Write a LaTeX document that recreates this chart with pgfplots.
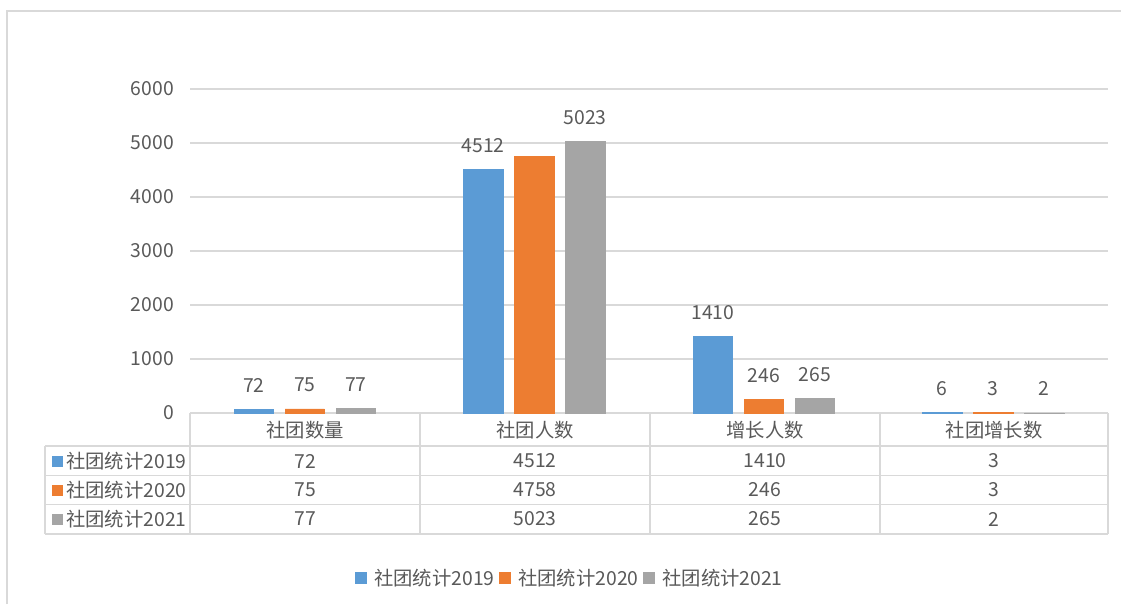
\documentclass[border=0pt]{standalone}
\usepackage{pgfplots}
\pgfplotsset{compat=1.18}
\usepackage{fontspec}
\setmainfont{Noto Sans CJK SC}
\definecolor{cblue}{HTML}{5B9BD5}
\definecolor{corange}{HTML}{ED7D31}
\definecolor{cgray}{HTML}{A5A5A5}
\definecolor{tgray}{HTML}{595959}
\definecolor{lgray}{HTML}{D9D9D9}
\newcommand{\fs}{\fontsize{14.5}{16}\selectfont}
\begin{document}
\begin{tikzpicture}
\path[use as bounding box] (0,0) rectangle (840.75pt,-453pt);
\begin{axis}[
  at={(142.5pt,-309.75pt)}, anchor=south west,
  scale only axis, width=688.5pt, height=243pt,
  xmin=-0.5, xmax=3.5, ymin=0, ymax=6000,
  axis line style={draw=none},
  xtick=\empty,
  ytick={0,1000,...,6000},
  ymajorgrids, grid style={lgray, line width=1.1pt},
  major tick length=0pt,
  tick style={draw=none},
  yticklabel style={font=\fs, text=tgray, inner sep=0pt, xshift=-12pt},
  /pgf/number format/1000 sep={},
  /pgf/number format/assume math mode=true,
  scaled y ticks=false,
  ybar, bar width=29.5pt,
  clip=false,
  point meta=explicit symbolic,
  nodes near coords,
  every node near coord/.append style={font=\fs, text=tgray, anchor=center, yshift=18pt, inner sep=0pt},
  legend style={at={(0.414,-0.509)}, anchor=center, draw=none, fill=none, legend columns=-1, font=\fs, text=tgray,
    /tikz/every odd column/.append style={column sep=3.75pt},
    /tikz/every even column/.append style={column sep=1.25pt}},
  legend image code/.code={\fill[#1] (0pt,-4.1pt) rectangle (8.25pt,4.1pt);},
]
\addplot[fill=cblue, draw=cblue, line width=0.6pt, bar shift=-38.25pt] coordinates {(0,72)[72] (1,4512)[4512] (2,1410)[1410] (3,6)[6]};
\addplot[fill=corange, draw=corange, line width=0.6pt, bar shift=0pt] coordinates {(0,75)[75] (1,4758)[\phantom{0}] (2,246)[246] (3,3)[3]};
\addplot[fill=cgray, draw=cgray, line width=0.6pt, bar shift=38.25pt] coordinates {(0,77)[77] (1,5023)[5023] (2,265)[265] (3,2)[2]};
\legend{社团统计2019,社团统计2020,社团统计2021}
\end{axis}
\begin{scope}[x=0.75pt,y=-0.75pt]
\draw[lgray, line width=1.5pt] (7,604) -- (7,11) -- (1121,11);
\foreach \x in {190,420,650,880,1108} \draw[lgray,line width=1.1pt] (\x,413) -- (\x,534);
\foreach \y in {446,475.5,504.5,534} \draw[lgray,line width=1.1pt] (45,\y) -- (1108,\y);
\draw[lgray,line width=1.1pt] (45,446) -- (45,534);
% header
\foreach \x/\t in {305/社团数量,535/社团人数,765/增长人数,994/社团增长数}
  \node[font=\fs, text=tgray, inner sep=0pt] at (\x,430) {\t};
% row headers
\foreach \y/\c/\t in {461/cblue/社团统计2019,490/corange/社团统计2020,519/cgray/社团统计2021}{
  \fill[\c] (52,\y-5.5) rectangle (63,\y+5.5);
  \node[font=\fs, text=tgray, inner sep=0pt, anchor=west] at (66,\y) {\t};
}
% values
\foreach \x/\a/\b/\c in {305/72/75/77, 535/4512/4758/5023, 765/1410/246/265, 994/3/3/2}{
  \node[font=\fs, text=tgray, inner sep=0pt] at (\x,461) {\a};
  \node[font=\fs, text=tgray, inner sep=0pt] at (\x,490) {\b};
  \node[font=\fs, text=tgray, inner sep=0pt] at (\x,519) {\c};
}
\end{scope}
\end{tikzpicture}
\end{document}
